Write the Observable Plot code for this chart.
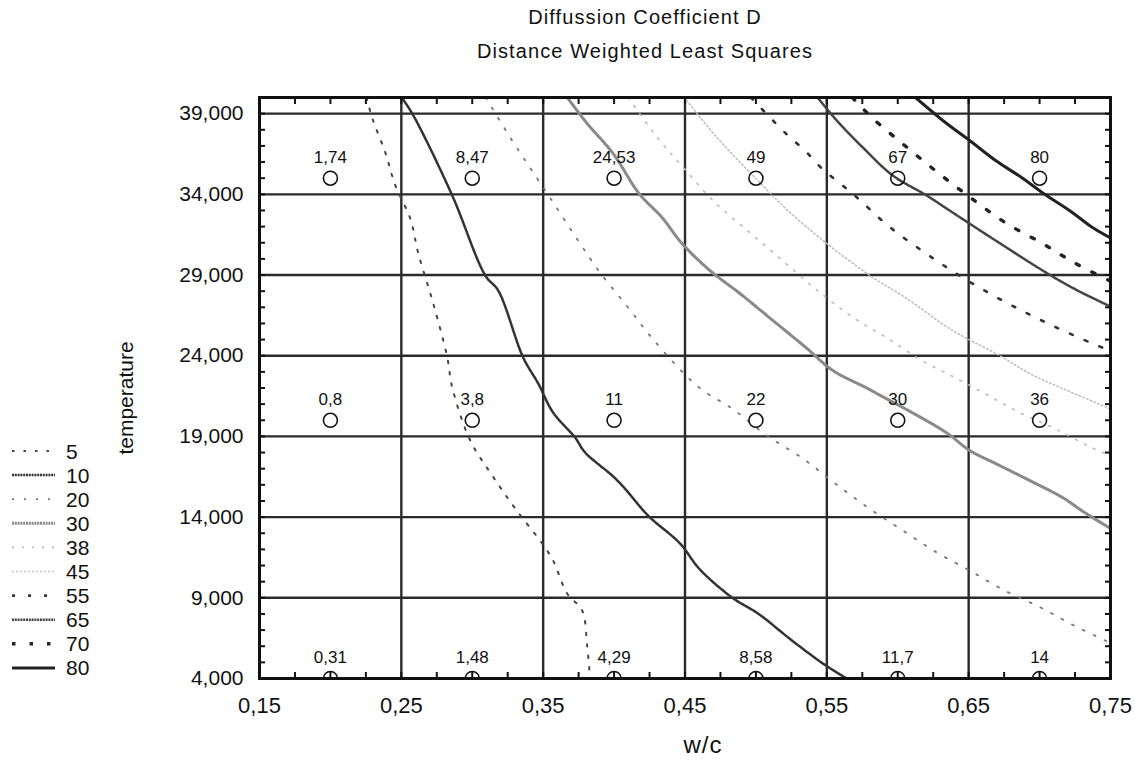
<!DOCTYPE html>
<html>
<head>
<meta charset="utf-8">
<script src="https://cdn.jsdelivr.net/npm/d3@7"></script>
<script src="https://cdn.jsdelivr.net/npm/@observablehq/plot@0.6"></script>
<style>
  html, body { margin: 0; padding: 0; background: #fff; }
  #wrap { position: relative; width: 1135px; height: 765px; font-family: "Liberation Sans", Arial, Helvetica, sans-serif; color: #111; overflow: hidden; }
  .t { position: absolute; white-space: nowrap; transform: translateX(-50%); letter-spacing: 1.1px; font-size: 20px; line-height: 20px; }
  #ylab { position: absolute; white-space: nowrap; font-size: 21px; line-height: 21px; transform: translate(-50%, -50%) rotate(-90deg); }
  #xlab { position: absolute; white-space: nowrap; font-size: 24px; line-height: 24px; transform: translateX(-50%); letter-spacing: 1px; }
  #legend { position: absolute; left: 0; top: 0; }
  #chart { position: absolute; left: 0; top: 0; }
</style>
</head>
<body>
<div id="wrap">
  <div id="chart"></div>
  <div class="t" style="left:645px; top:7px;">Diffussion Coefficient D</div>
  <div class="t" style="left:645px; top:41px;">Distance Weighted Least Squares</div>
  <div id="ylab" style="left:125px; top:398px;">temperature</div>
  <div id="xlab" style="left:703px; top:733px;">w/c</div>
  <svg id="legend" width="110" height="700"></svg>
</div>
<script>
// ---------------- data ----------------
const xTicks = [0.15, 0.25, 0.35, 0.45, 0.55, 0.65, 0.75];
const yTicks = [4000, 9000, 14000, 19000, 24000, 29000, 34000, 39000];

// sample points (w/c, temperature) and measured D values
const pointX = [0.2, 0.3, 0.4, 0.5, 0.6, 0.7];
const pointY = [35000, 20000, 4000];
const valuesAt35000 = [1.74, 8.47, 24.53, 49, 67, 80];
const valuesAt20000 = [0.8, 3.8, 11, 22, 30, 36];
const valuesAt4000  = [0.31, 1.48, 4.29, 8.58, 11.7, 14];

// contour levels and traced isolines [w/c, temperature]
const levels = [5, 10, 20, 30, 38, 45, 55, 65, 70, 80];
const contour5 = [[0.2255,40000],[0.2296,38700],[0.2387,36590],[0.2458,34545],[0.2563,32500],[0.2620,30330],[0.2725,27235],[0.2824,23890],[0.2859,22030],[0.2986,18745],[0.3141,16580],[0.3303,14530],[0.3493,12365],[0.3570,11310],[0.3669,9270],[0.3775,8215],[0.3810,6045],[0.3831,4000]];
const contour10 = [[0.2503,40000],[0.2585,38880],[0.2859,33925],[0.3092,28970],[0.3183,28040],[0.3359,23890],[0.3465,22280],[0.3570,20480],[0.3725,18930],[0.3796,18000],[0.3986,16580],[0.4070,15835],[0.4239,14100],[0.4465,12365],[0.4599,10815],[0.4831,9020],[0.5014,8030],[0.5254,6355],[0.5472,4930],[0.5640,4000]];
const contour20 = [[0.3095,40000],[0.3268,37520],[0.3430,35350],[0.3585,33305],[0.3746,31140],[0.3901,29155],[0.4099,26990],[0.4282,24940],[0.4599,22030],[0.4831,20730],[0.5077,19055],[0.5331,17630],[0.5549,16145],[0.5789,14595],[0.6035,13170],[0.6275,11810],[0.6507,10690],[0.6754,9450],[0.7007,8400],[0.7239,7300],[0.7500,6200]];
const contour30 = [[0.3670,40000],[0.3810,38390],[0.3993,36530],[0.4176,34050],[0.4338,32565],[0.4479,30950],[0.4676,29280],[0.4887,27855],[0.5120,26180],[0.5352,24510],[0.5542,23085],[0.5775,22030],[0.5852,21660],[0.6113,20420],[0.6352,19180],[0.6507,18130],[0.6690,17320],[0.6930,16270],[0.7162,15215],[0.7317,14285],[0.7500,13300]];
const contour38 = [[0.4100,40000],[0.4310,37458],[0.4507,35476],[0.4711,33493],[0.4965,31572],[0.5211,29713],[0.5451,27917],[0.5697,26306],[0.5930,25066],[0.6169,23703],[0.6401,22650],[0.6613,21659],[0.6859,20481],[0.7106,19490],[0.7366,18313],[0.7500,17800]];
const contour45 = [[0.4495,40000],[0.4725,37520],[0.4979,35166],[0.5225,32997],[0.5500,30953],[0.5803,28970],[0.6063,27545],[0.6387,25562],[0.6718,24013],[0.6930,22898],[0.7162,21968],[0.7444,20915],[0.7500,20700]];
const contour55 = [[0.4965,40000],[0.5211,37768],[0.5345,36715],[0.5458,35662],[0.5697,33927],[0.5930,32068],[0.6169,30519],[0.6401,29156],[0.6648,27855],[0.6901,26677],[0.7134,25686],[0.7373,24757],[0.7500,24300]];
const contour65 = [[0.5435,40000],[0.5570,38574],[0.5754,36901],[0.5965,35166],[0.6204,33927],[0.6387,32873],[0.6690,31138],[0.7056,29094],[0.7268,28040],[0.7500,27050]];
const contour70 = [[0.5680,40000],[0.5817,38760],[0.6049,37025],[0.6282,35352],[0.6521,33741],[0.6768,32192],[0.7021,30953],[0.7254,29713],[0.7500,28620]];
const contour80 = [[0.6125,40000],[0.6345,38388],[0.6507,37335],[0.6690,36095],[0.6873,35042],[0.7028,34051],[0.7211,32997],[0.7373,31944],[0.7500,31300]];
const contours = [contour5, contour10, contour20, contour30, contour38, contour45, contour55, contour65, contour70, contour80];

// ---------------- styles ----------------
const lineStyles = {
  5:  {stroke: "#444", strokeWidth: 2,   strokeDasharray: "2.5,9"},
  10: {stroke: "#333", strokeWidth: 2.5, strokeDasharray: "2,0.8"},
  20: {stroke: "#777", strokeWidth: 1.8, strokeDasharray: "2,10"},
  30: {stroke: "#8a8a8a", strokeWidth: 3, strokeDasharray: "2,0.8"},
  38: {stroke: "#bbb", strokeWidth: 1.6, strokeDasharray: "2,8"},
  45: {stroke: "#bbb", strokeWidth: 1.5, strokeDasharray: "1.5,2.5"},
  55: {stroke: "#333", strokeWidth: 2.6, strokeDasharray: "3,13"},
  65: {stroke: "#444", strokeWidth: 2.5, strokeDasharray: "2,0.8"},
  70: {stroke: "#222", strokeWidth: 3.4, strokeDasharray: "3.5,14"},
  80: {stroke: "#222", strokeWidth: 3}
};

// ---------------- derived tables ----------------
const fmtDec = d3.formatLocale({decimal: ",", thousands: ".", grouping: [3], currency: ["", ""]});
const xTickFormat = fmtDec.format(".2f");
const valueLabel = v => String(v).replace(".", ",");
const rows = [valuesAt35000, valuesAt20000, valuesAt4000];
const points = pointY.flatMap((y, j) => pointX.map((x, i) => ({x, y, v: rows[j][i]})));
const lineData = levels.map((lv, i) => contours[i].map(([x, y]) => ({level: lv, x, y})));
const minorX = d3.range(0, 25).map(i => +(0.15 + i * 0.025).toFixed(3));
const minorY = d3.range(4000, 40001, 1000);
const gridXValues = xTicks.slice(1, -1);
const gridYValues = yTicks.slice(1);

const W = 1135, H = 765;
const chart = Plot.plot({
  width: W,
  height: H,
  marginLeft: 259,
  marginRight: 25,
  marginTop: 97,
  marginBottom: 87,
  style: {fontFamily: '"Liberation Sans", Arial, Helvetica, sans-serif', background: "white", color: "#111"},
  x: {domain: [0.15, 0.75]},
  y: {domain: [4000, 40000]},
  marks: [
    Plot.gridX(gridXValues, {stroke: "#2a2a2a", strokeOpacity: 1, strokeWidth: 2.4}),
    Plot.gridY(gridYValues, {stroke: "#2a2a2a", strokeOpacity: 1, strokeWidth: 2.4}),
    ...lineData.map((d, i) => Plot.line(d, {x: "x", y: "y", curve: "catmull-rom", clip: true, ...lineStyles[levels[i]]})),
    Plot.frame({stroke: "#111", strokeWidth: 3}),
    Plot.axisX(xTicks, {tickSize: 0, tickPadding: 19, tickFormat: xTickFormat, fontSize: 22, label: null}),
    Plot.axisY(yTicks, {tickSize: 0, tickPadding: 16, tickFormat: d3.format(","), fontSize: 21, label: null}),
    Plot.axisX(minorX, {anchor: "bottom", tickSize: 6, dy: -6, text: null, label: null, strokeWidth: 2}),
    Plot.axisX(minorX, {anchor: "top", tickSize: 6, dy: 6, text: null, label: null, strokeWidth: 2}),
    Plot.axisY(minorY, {anchor: "left", tickSize: 6, dx: 6, text: null, label: null, strokeWidth: 2}),
    Plot.axisY(minorY, {anchor: "right", tickSize: 6, dx: -6, text: null, label: null, strokeWidth: 2}),
    Plot.dot(points, {x: "x", y: "y", r: 7, stroke: "#111", strokeWidth: 1.6, fill: "none", clip: true}),
    Plot.text(points, {x: "x", y: "y", text: d => valueLabel(d.v), dy: -21, fontSize: 17, fill: "#111"})
  ]
});
document.getElementById("chart").appendChild(chart);

// ---------------- legend ----------------
const legend = d3.select("#legend");
const legendTop = 451, legendStep = 24.1;
levels.forEach((lv, i) => {
  const s = lineStyles[lv];
  const y = legendTop + i * legendStep;
  legend.append("line")
    .attr("x1", 12).attr("x2", 55).attr("y1", y).attr("y2", y)
    .attr("stroke", s.stroke).attr("stroke-width", s.strokeWidth)
    .attr("stroke-dasharray", s.strokeDasharray || null);
  legend.append("text")
    .attr("x", 66).attr("y", y).attr("dy", "0.36em")
    .attr("font-size", 21)
    .attr("font-family", '"Liberation Sans", Arial, sans-serif')
    .attr("fill", "#111")
    .text(lv);
});
</script>
</body>
</html>
